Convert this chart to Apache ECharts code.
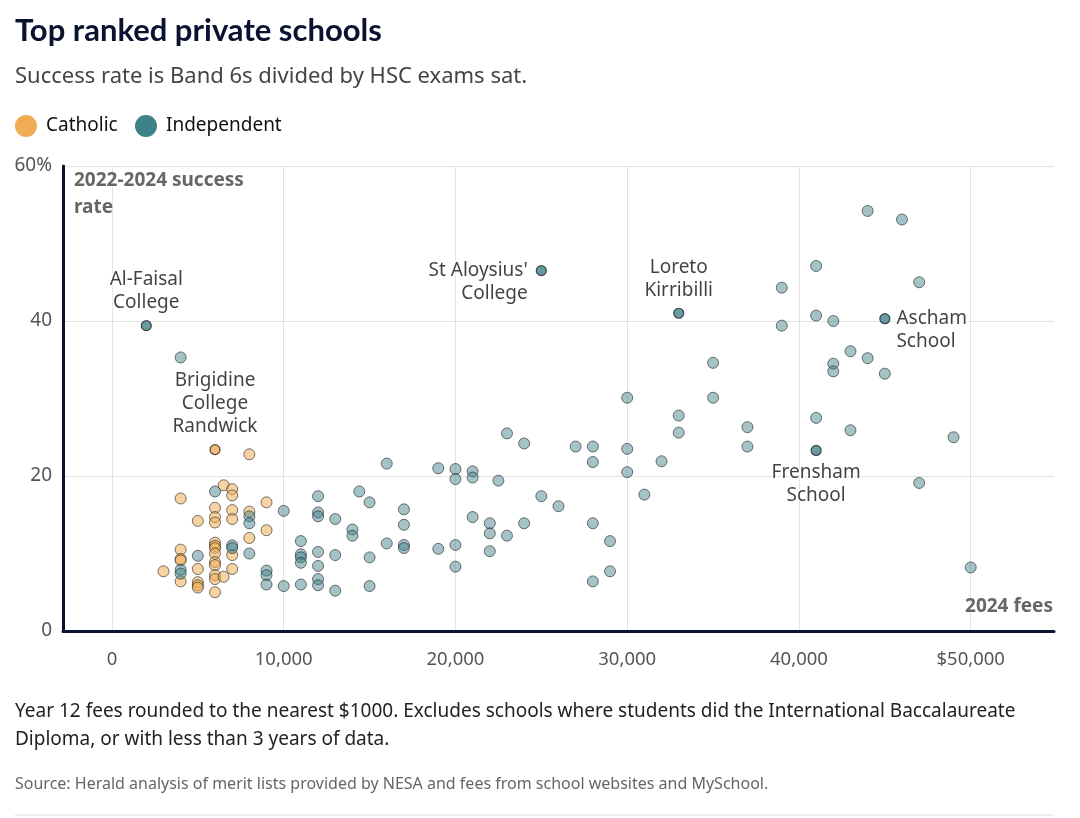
<!DOCTYPE html>
<html><head><meta charset="utf-8">
<script src="https://cdn.jsdelivr.net/npm/echarts@6/dist/echarts.min.js"></script>
<style>html,body{margin:0;padding:0;background:#fff}#chart{width:1080px;height:818px}</style>
</head><body><div id="chart"></div>
<script>
// Fees in $1000s, success rate in %
const catholicPoints = [
  [8,22.8],[6.5,18.8],[7,18.3],[7,17.5],[4,17.1],[9,16.6],[6,15.9],[7,15.6],[8,15.4],
  [5,14.2],[6,14.7],[6,14.0],[7,14.45],[9,13.0],[8,12.0],[6,11.4],[6,11.0],[6,10.7],
  [7,9.8],[4,10.5],[6,10.0],[4,9.3],[4,9.1],[6,8.9],[6,8.5],[3,7.7],[4,6.4],[5,8.0],
  [7,8.0],[6,7.2],[6,6.7],[6.5,7.0],[5,6.3],[5,5.9],[5,5.6],[6,5.0]
];
const independentPoints = [
  [4,35.3],[6,18.0],[10,15.5],[8,14.8],[8,13.9],[11,11.6],[7,11.05],[7,10.7],[5,9.7],[8,10.0],
  [4,7.9],[4,7.4],[9,7.8],[9,7.2],[9,6.0],[10,5.8],[11,6.0],[11,9.9],[11,9.5],[11,8.8],
  [23,25.5],[24,24.2],[16,21.6],[19,21.0],[20,20.9],[20,19.6],[21,20.6],[21,19.8],[22.5,19.4],
  [25,17.4],[26,16.1],[14.4,18.0],[15,16.6],[12,17.4],[12,15.3],[12,14.8],[13,14.45],[14,13.1],
  [14,12.3],[17,15.7],[17,13.7],[16,11.3],[17,11.1],[17,10.7],[21,14.7],[22,13.9],[22,12.6],
  [23,12.3],[24,13.9],[19,10.6],[20,11.1],[22,10.3],[20,8.3],[12,10.2],[13,9.8],[12,8.4],
  [15,9.5],[12,6.7],[12,5.9],[13,5.2],[15,5.8],
  [30,30.1],[35,30.1],[33,27.8],[33,25.6],[37,26.3],[37,23.8],[41,27.5],[27,23.8],[28,23.8],
  [28,21.8],[30,23.5],[30,20.5],[32,21.9],[31,17.6],[28,13.9],[29,11.6],[29,7.7],[28,6.4],
  [44,54.2],[46,53.1],[41,47.1],[47,45.0],[39,44.3],[41,40.7],[42,40.0],[39,39.4],[43,36.1],
  [44,35.2],[42,34.5],[42,33.5],[45,33.2],[35,34.6],[43,25.9],[49,25.0],[47,19.1],[50,8.2]
];
const highlightNames   = ['Al-Faisal\nCollege', "St Aloysius'\nCollege", 'Loreto\nKirribilli', 'Ascham\nSchool', 'Frensham\nSchool', 'Brigidine\nCollege\nRandwick'];
const highlightFees    = [2, 25, 33, 45, 41, 6];
const highlightRates   = [39.4, 46.5, 41.0, 40.3, 23.3, 23.4];
const highlightSectors = ['Independent','Independent','Independent','Independent','Independent','Catholic'];
const sectors = ['Catholic', 'Independent'];
const xTickValues = [0, 10, 20, 30, 40, 50];
const yTickValues = [0, 20, 40, 60];

// label placement (style only)
const labelPlacement = {
  'Al-Faisal\nCollege': {position:'top', distance:6},
  "St Aloysius'\nCollege": {position:'left', distance:8, align:'right', offset:[0,11]},
  'Loreto\nKirribilli': {position:'top', distance:6},
  'Ascham\nSchool': {position:'right', distance:6, align:'left', offset:[0,11]},
  'Frensham\nSchool': {position:'bottom', distance:5},
  'Brigidine\nCollege\nRandwick': {position:'top', distance:6}
};

const FONT = '"Noto Sans", Lato, sans-serif';
const TITLE_FONT = 'Lato, "Noto Sans", sans-serif';
const colors = {Catholic:'#f0ad55', Independent:'#3e8289'};
const fills = {Catholic:'rgba(240,173,85,0.68)', Independent:'rgba(62,130,137,0.6)'};

function buildData(points, sector) {
  const data = points.map(p => ({value:[p[0]*1000, p[1]]}));
  highlightNames.forEach((n, i) => {
    if (highlightSectors[i] !== sector) return;
    const pl = labelPlacement[n];
    data.push({
      value:[highlightFees[i]*1000, highlightRates[i]],
      symbolSize: 10,
      itemStyle:{color:colors[sector], borderColor:'#222', borderWidth:1.2},
      label:{show:true, formatter:n, position:pl.position, distance:pl.distance,
        align:pl.align, offset:pl.offset, fontSize:19, lineHeight:23, color:'#111',
        fontFamily:FONT, textBorderColor:'#fff', textBorderWidth:3}
    });
  });
  return data;
}

// legend drawn as graphics for exact colours
const legendX = [15, 135];
const legendGraphics = [];
sectors.forEach((s, i) => {
  legendGraphics.push({type:'circle', shape:{cx:legendX[i]+11, cy:126, r:11}, style:{fill:colors[s]}});
  legendGraphics.push({type:'text', x:legendX[i]+31, y:126, style:{text:s, font:'19px '+FONT, fill:'#111', align:'left', verticalAlign:'middle'}});
});

const chart = echarts.init(document.getElementById('chart'), null, {renderer:'canvas'});
chart.setOption({
  animation:false,
  textStyle:{fontFamily:FONT},
  grid:{left:63, right:26, top:166, bottom:187, containLabel:false},
  legend:{show:false, data:sectors},
  xAxis:{
    type:'value', min:-2850, max:54850,
    axisLine:{show:true, onZero:false, lineStyle:{color:'#0b1230', width:3}},
    axisTick:{show:false, customValues:xTickValues.map(v=>v*1000)},
    axisLabel:{customValues:xTickValues.map(v=>v*1000), fontSize:18.5, color:'#555', margin:19, fontFamily:FONT,
      formatter:v => (v===50000?'$':'') + (v===0?'0':v.toLocaleString('en-US'))},
    splitLine:{show:true, lineStyle:{color:'#e3e3e3', width:1}}
  },
  yAxis:{
    type:'value', min:0, max:60, interval:20,
    axisLine:{show:true, onZero:false, lineStyle:{color:'#0b1230', width:3}},
    axisTick:{show:false},
    axisLabel:{fontSize:19, color:'#555', margin:11, fontFamily:FONT,
      formatter:v => v===60 ? '60%' : String(v)},
    splitLine:{show:true, lineStyle:{color:'#e3e3e3', width:1}}
  },
  series:[
    {name:'Catholic', type:'scatter', symbolSize:11, data:buildData(catholicPoints,'Catholic'),
      itemStyle:{color:fills.Catholic, borderColor:'rgba(30,30,30,0.75)', borderWidth:1}, emphasis:{disabled:true}},
    {name:'Independent', type:'scatter', symbolSize:11, data:buildData(independentPoints,'Independent'),
      itemStyle:{color:fills.Independent, borderColor:'rgba(30,30,30,0.75)', borderWidth:1}, emphasis:{disabled:true}}
  ],
  graphic:[
    {type:'text', x:15, y:31, style:{text:'Top ranked private schools', font:'bold 31px '+TITLE_FONT, fill:'#0b1230', align:'left', verticalAlign:'middle'}},
    {type:'text', x:15, y:77, style:{text:'Success rate is Band 6s divided by HSC exams sat.', font:'22px '+FONT, fill:'#444', align:'left', verticalAlign:'middle'}},
    ...legendGraphics,
    {type:'text', x:74, y:167, style:{text:'2022-2024 success\nrate', font:'bold 19px '+FONT, fill:'#666', lineHeight:27, align:'left', verticalAlign:'top'}, z:10},
    {type:'text', x:1053, y:607, style:{text:'2024 fees', font:'bold 19px '+FONT, fill:'#666', align:'right', verticalAlign:'middle'}, z:10},
    {type:'text', x:15, y:698, style:{text:'Year 12 fees rounded to the nearest $1000. Excludes schools where students did the International Baccalaureate\nDiploma, or with less than 3 years of data.', font:'19px '+FONT, fill:'#222', lineHeight:28, align:'left', verticalAlign:'top'}},
    {type:'text', x:15, y:784, style:{text:'Source: Herald analysis of merit lists provided by NESA and fees from school websites and MySchool.', font:'16px '+FONT, fill:'#666', align:'left', verticalAlign:'middle'}},
    {type:'line', shape:{x1:15, y1:815, x2:1053, y2:815}, style:{stroke:'#ddd', lineWidth:1}}
  ]
});
</script></body></html>
